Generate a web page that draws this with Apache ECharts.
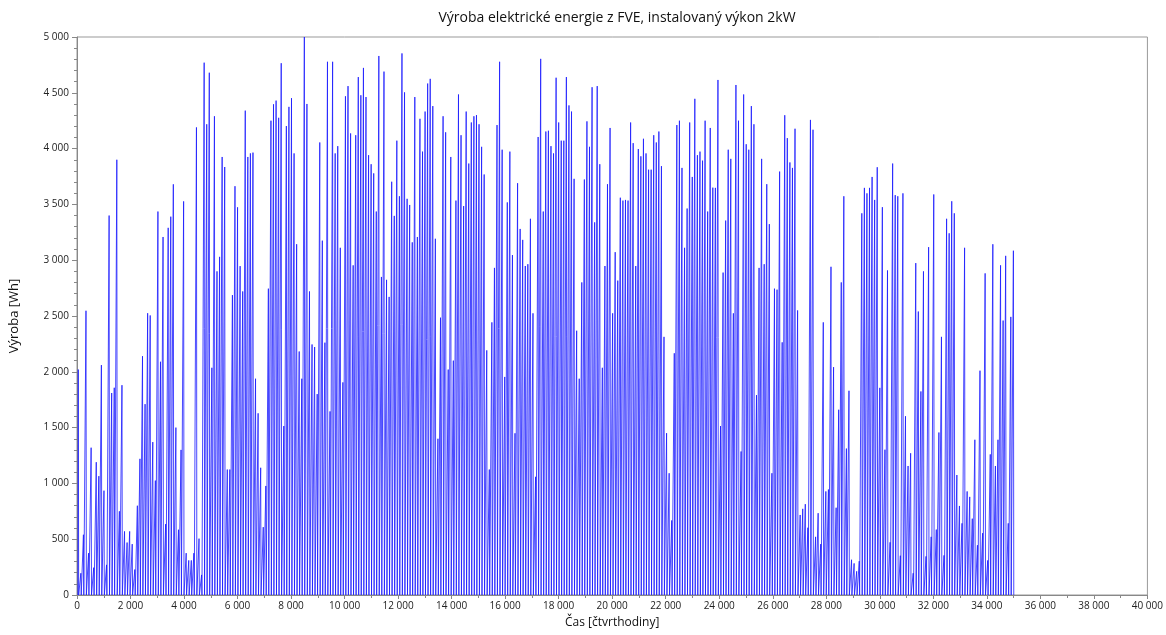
<!DOCTYPE html>
<html>
<head>
<meta charset="utf-8">
<script src="https://cdn.jsdelivr.net/npm/echarts@6/dist/echarts.min.js"></script>
<style>
  html, body { margin: 0; padding: 0; background: #fff; }
  #chart { width: 1166px; height: 635px; }
</style>
</head>
<body>
<div id="chart"></div>
<script>
// daily peak production [Wh], one value per day (96 quarter-hours)
const peaksJanFeb = [
  2020, 195, 540, 2547, 375, 1320, 245, 1190, 1065, 2060,
  935, 270, 3400, 1810, 1857, 3900, 750, 1880, 570, 470,
  570, 456, 228, 800, 1220, 2140, 1710, 2525, 2505, 1370,
  1025, 3436, 2090, 3208, 635, 3290, 3390, 3680, 1500, 585,
  1300, 3527, 375, 310, 310, 375
];
const peaksMarApr = [
  4190, 505, 180, 4770, 4218, 4680, 2036, 4290, 2900, 3030,
  3925, 3835, 1124, 1124, 2687, 3663, 3474, 2947, 2720, 4340,
  3925, 3957, 3964, 1938, 1628, 1140, 608, 977, 2745, 4250,
  4397, 4430, 4276, 4765, 1514, 4202, 4374, 4452, 3957, 3143,
  2182, 1938, 5000, 4400, 2720, 2245,
  2222, 1800, 4055, 3175, 2261, 4778, 1645, 4778, 3957, 4022,
  3111, 1905, 4469, 4560, 4136, 2954, 4120, 4641, 4478, 4723,
  4462, 3941, 3860, 3778, 3436, 4830, 2850, 4690, 2824, 2671,
  3703, 3397, 4071, 3573, 4853, 4504, 3550, 3495, 3160, 4462,
  3208, 4267, 3973, 4332, 4583, 4625, 4381, 3192
];
const peaksSummer = [
  1400, 2485, 4290, 4146, 2020, 3925, 2100, 3534, 4485, 4120,
  3485, 4332, 3866, 4234, 4290, 4300, 4218, 4016, 3768, 2192,
  1124, 2443, 2931, 4211, 4778, 3990, 1954, 3518, 3973, 3046,
  1449, 3690, 3280, 3182, 2948, 2964, 3371, 2524, 1059, 4104,
  4804, 3436, 4153, 4160, 4022, 3957,
  4635, 4234, 4071, 4071, 4641, 4387, 4332, 3729, 2368, 1938,
  2801, 3723, 4244, 4016, 4550, 3339, 4560, 3860, 2036, 2948,
  3681, 4185, 2524, 3072, 2817, 3560, 3534, 3540, 3534, 4234,
  4049, 2948, 3996, 3931, 4088, 3957, 3811, 3811, 4120, 4055,
  4153, 3843, 2313, 1450, 1091, 668, 2166, 4211
];
const peaksAutumn = [
  4250, 3827, 3111, 3463, 4234, 3746, 4446, 3941, 3973, 3892,
  4250, 3436, 4185, 3650, 3648, 4615, 1514, 2889, 3355, 3990,
  3908, 2524, 4570, 4250, 1286, 4485, 4039, 3990, 4381, 4218,
  1791, 2931, 3908, 2964, 3681, 3323, 1091, 2745, 2736, 3794,
  2264, 4299, 4094, 3876, 3827, 4178,
  2550, 717, 772, 814, 603, 4257, 4169, 521, 733, 456,
  2443, 928, 945, 2941, 2042, 782, 1660, 2801, 3573, 1312,
  1830, 316, 283, 212, 303, 3420, 3648, 3599, 3648, 3746,
  3540, 3833, 1856, 3475, 1302, 2908, 472, 3866, 3583, 3573,
  352, 3599, 1602, 1156, 1270, 195, 2974, 2540
];
const peaksWinter = [
  1824, 2900, 346, 3117, 521, 3589, 586, 1456, 2313, 355,
  3371, 3241, 3528, 3420, 1075, 798, 642, 3111, 928, 879,
  684, 1391, 446, 2010, 554, 2882, 310, 1260, 3143, 1156,
  1391, 2954, 2459, 3039, 642, 2492, 3085
];

const dailyPeaks = [].concat(peaksJanFeb, peaksMarApr, peaksSummer, peaksAutumn, peaksWinter);
const quartersPerDay = 96;
const sunrise = 34, noon = 48, sunset = 62; // quarter-hour index within a day

const xTicks = { min: 0, max: 40000, interval: 2000 };
const yTicks = { min: 0, max: 5000, interval: 500 };

// night = 0, noon = daily peak
const points = [];
dailyPeaks.forEach((p, d) => {
  const t0 = d * quartersPerDay;
  points.push([t0 + sunrise, 0], [t0 + noon, p], [t0 + sunset, 0]);
});

const fmt = v => String(v).replace(/\B(?=(\d{3})+(?!\d))/g, ' ');

const chart = echarts.init(document.getElementById('chart'));
chart.setOption({
  animation: false,
  textStyle: { fontFamily: 'Open Sans' },
  title: {
    text: 'Výroba elektrické energie z FVE, instalovaný výkon 2kW',
    left: 612, top: 6, textAlign: 'center',
    textStyle: { fontSize: 14, fontWeight: 'normal', color: '#111', fontFamily: 'Open Sans' }
  },
  grid: {
    left: 75, right: 18, top: 37, bottom: 40,
    show: true, borderColor: '#999', borderWidth: 1, backgroundColor: '#fff'
  },
  xAxis: {
    type: 'value',
    min: xTicks.min, max: xTicks.max, interval: xTicks.interval,
    name: 'Čas [čtvrthodiny]', nameLocation: 'middle', nameGap: 22,
    nameTextStyle: { fontSize: 12, color: '#111' },
    axisLine: { lineStyle: { color: '#888' } },
    axisTick: { length: 4, lineStyle: { color: '#888' } },
    minorTick: { show: true, splitNumber: 2, length: 3, lineStyle: { color: '#888' } },
    splitLine: { show: false },
    axisLabel: { fontSize: 10, color: '#222', margin: 6, formatter: fmt }
  },
  yAxis: {
    type: 'value',
    min: yTicks.min, max: yTicks.max, interval: yTicks.interval,
    name: 'Výroba [Wh]', nameLocation: 'middle', nameGap: 56,
    nameTextStyle: { fontSize: 13, color: '#111' },
    axisLine: { show: true, lineStyle: { color: '#888' } },
    axisTick: { show: true, length: 5, lineStyle: { color: '#888' } },
    minorTick: { show: true, splitNumber: 5, length: 3, lineStyle: { color: '#888' } },
    splitLine: { show: false },
    axisLabel: { fontSize: 10, color: '#222', margin: 8, formatter: fmt }
  },
  series: [{
    type: 'line',
    data: points,
    showSymbol: false,
    sampling: null,
    lineStyle: { color: '#1a1aff', width: 0.8 },
    itemStyle: { color: '#1a1aff' }
  }]
});
</script>
</body>
</html>
